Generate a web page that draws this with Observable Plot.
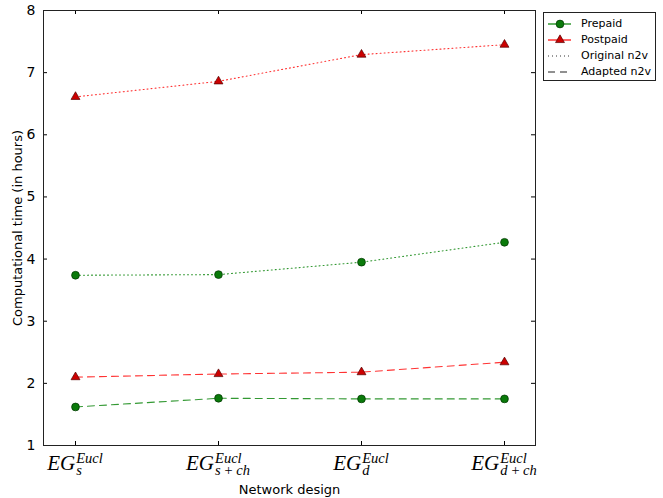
<!DOCTYPE html>
<html>
<head>
<meta charset="utf-8">
<script src="https://cdn.jsdelivr.net/npm/d3@7"></script>
<script src="https://cdn.jsdelivr.net/npm/@observablehq/plot@0.6"></script>
<style>
  body { margin: 0; background: white; }
  #wrap { position: relative; width: 663px; height: 498px; font-family: "DejaVu Sans", sans-serif; }
  #legend { position: absolute; left: 543px; top: 12px; width: 113px; height: 69px; border: 1px solid #222; background: white; box-sizing: border-box; }
  .row { position: absolute; left: 0; height: 16px; width: 112px; }
  .row svg { position: absolute; left: 4px; top: 0; }
  .row span { position: absolute; left: 37px; top: 0; line-height: 16px; font-size: 11px; color: #000; white-space: nowrap; }
</style>
</head>
<body>
<div id="wrap"><div id="legend"></div></div>
<script>
// ---- data ----
const designs = ["s", "s+ch", "d", "d+ch"];
const subLabels = ["s", "s\u2009+\u2009ch", "d", "d\u2009+\u2009ch"];
const baseLabel = "EG";
const supLabel = "Eucl";
const prepaidOriginal = [3.74, 3.75, 3.95, 4.27];
const postpaidOriginal = [6.61, 6.86, 7.29, 7.45];
const prepaidAdapted = [1.62, 1.76, 1.75, 1.75];
const postpaidAdapted = [2.10, 2.15, 2.18, 2.34];
const yTicks = [1, 2, 3, 4, 5, 6, 7, 8];
const legendItems = ["Prepaid", "Postpaid", "Original n2v", "Adapted n2v"];
const yLabel = "Computational time (in hours)";
const xLabel = "Network design";

const seriesDefs = [
  {plan: "Prepaid", method: "Original n2v", values: prepaidOriginal},
  {plan: "Postpaid", method: "Original n2v", values: postpaidOriginal},
  {plan: "Prepaid", method: "Adapted n2v", values: prepaidAdapted},
  {plan: "Postpaid", method: "Adapted n2v", values: postpaidAdapted}
];
const rows = seriesDefs.flatMap(s => s.values.map((v, i) => ({design: designs[i], value: v, plan: s.plan, method: s.method, key: s.plan + s.method})));

const lineColor = {Prepaid: "#008000", Postpaid: "#ff0000"};
const dash = {"Original n2v": "1,3", "Adapted n2v": "7,5"};

const W = 663, H = 498, mL = 43, mR = 128, mT = 10, mB = 53;
const pw = W - mL - mR, ph = H - mT - mB;

const lineMarks = seriesDefs.map(s => Plot.line(rows.filter(r => r.key === s.plan + s.method), {
  x: "design", y: "value", stroke: lineColor[s.plan], strokeWidth: 1.1, strokeOpacity: 0.8,
  strokeDasharray: dash[s.method]
}));

const plot = Plot.plot({
  width: W, height: H,
  marginLeft: mL, marginRight: mR, marginTop: mT, marginBottom: mB,
  style: {fontFamily: "DejaVu Sans, sans-serif", background: "white", color: "black"},
  x: {type: "point", domain: designs, padding: 0.21},
  y: {domain: [1, 8]},
  marks: [
    Plot.axisY({ticks: yTicks, tickFormat: "d", tickSize: 0, tickPadding: 8, fontSize: 14, label: null}),
    Plot.axisX({ticks: designs, tickSize: 0, tickPadding: 6, fontSize: 13, label: null}),
    Plot.text([yLabel], {text: d => d, frameAnchor: "left", dx: -26, rotate: -90, fontSize: 13, textAnchor: "middle", lineAnchor: "middle", fill: "black"}),
    Plot.text([xLabel], {text: d => d, frameAnchor: "bottom", dy: 44, fontSize: 13, textAnchor: "middle", lineAnchor: "middle", fill: "black"}),
    ...lineMarks,
    Plot.dot(rows.filter(r => r.plan === "Prepaid"), {x: "design", y: "value", symbol: "circle", r: 3.9, fill: "#0a7a0a", stroke: "#003300", strokeWidth: 0.7}),
    Plot.dot(rows.filter(r => r.plan === "Postpaid"), {x: "design", y: "value", symbol: "triangle", r: 3.3, fill: "#cc0000", stroke: "#550000", strokeWidth: 0.7}),
    Plot.ruleY(yTicks, {y: d => d, insetRight: pw - 4, stroke: "black"}),
    Plot.ruleY(yTicks, {y: d => d, insetLeft: pw - 4, stroke: "black"}),
    Plot.ruleX(designs, {x: d => d, insetTop: ph - 4, stroke: "black"}),
    Plot.ruleX(designs, {x: d => d, insetBottom: ph - 4, stroke: "black"}),
    Plot.frame({stroke: "#222", strokeWidth: 1})
  ]
});
const wrap = document.getElementById("wrap");
wrap.insertBefore(plot, wrap.firstChild);

// math-style tick labels
const xs = plot.scale("x");
const NS = "http://www.w3.org/2000/svg";
const tg = plot.querySelector('g[aria-label="x-axis tick label"]');
tg.removeAttribute("transform");
tg.querySelectorAll("text").forEach((t, i) => {
  const px = xs.apply(designs[i]);
  t.textContent = "";
  t.removeAttribute("dy");
  t.removeAttribute("y");
  t.setAttribute("text-anchor", "start");
  t.setAttribute("transform", `translate(${px},470)`);
  t.setAttribute("font-family", "Liberation Serif, serif");
  t.setAttribute("font-style", "italic");
  const a = document.createElementNS(NS, "tspan");
  a.setAttribute("font-size", 21); a.textContent = baseLabel; t.appendChild(a);
  const b = document.createElementNS(NS, "tspan");
  b.setAttribute("font-size", 14.5); b.setAttribute("dy", -7.5); b.textContent = supLabel; t.appendChild(b);
  const c = document.createElementNS(NS, "tspan");
  c.setAttribute("font-size", 14.5); c.setAttribute("dy", 12.5); c.textContent = subLabels[i]; t.appendChild(c);
  const wa = a.getComputedTextLength(), wb = b.getComputedTextLength(), wc = c.getComputedTextLength();
  const total = wa + 1 + Math.max(wb, wc);
  const x0 = -total / 2;
  t.setAttribute("x", x0);
  b.setAttribute("dx", 1);
  c.setAttribute("x", x0 + wa + 1);
});

// legend
const legend = document.getElementById("legend");
legendItems.forEach((name, i) => {
  const row = document.createElement("div");
  row.className = "row";
  row.style.top = (3 + i * 16) + "px";
  let sw = "";
  if (name === "Prepaid") sw = `<line x1="0" x2="23" y1="8" y2="8" stroke="#008000" stroke-width="1.2"/><circle cx="12" cy="8" r="3.9" fill="#0a7a0a" stroke="#003300" stroke-width="0.7"/>`;
  else if (name === "Postpaid") sw = `<line x1="0" x2="23" y1="8" y2="8" stroke="#ff0000" stroke-width="1.2"/><path d="${d3.symbol(d3.symbolTriangle, Math.PI*3.3*3.3)()}" transform="translate(12,8)" fill="#cc0000" stroke="#550000" stroke-width="0.7"/>`;
  else if (name === "Original n2v") sw = `<line x1="0" x2="23" y1="8" y2="8" stroke="#333" stroke-width="1" stroke-dasharray="1,3"/>`;
  else sw = `<line x1="0" x2="23" y1="8" y2="8" stroke="#222" stroke-width="1.1" stroke-dasharray="7,5"/>`;
  row.innerHTML = `<svg width="26" height="16">${sw}</svg><span>${name}</span>`;
  legend.appendChild(row);
});
</script>
</body>
</html>
